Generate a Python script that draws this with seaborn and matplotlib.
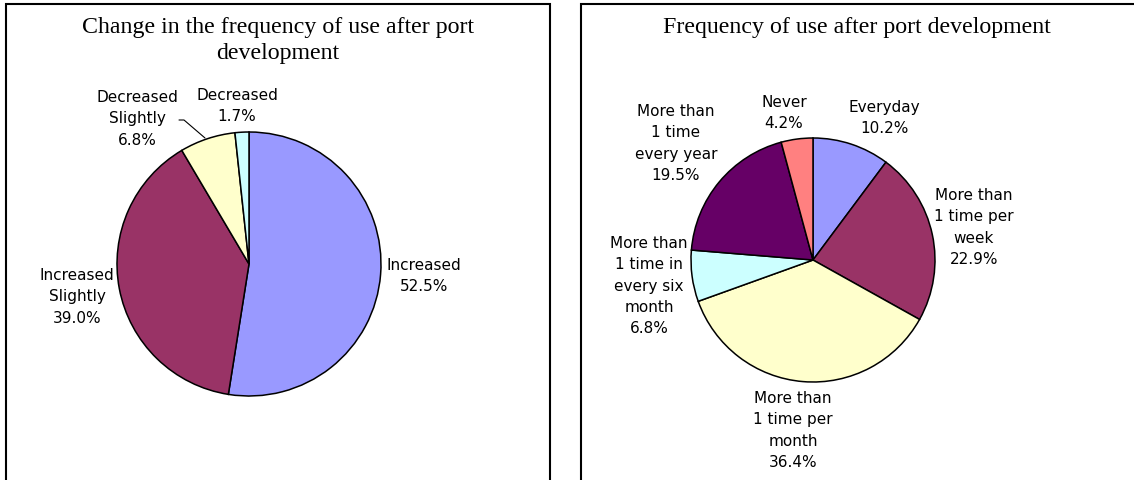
import matplotlib
matplotlib.use("Agg")
import matplotlib.pyplot as plt
from matplotlib.patches import Rectangle
import seaborn as sns

# Survey results: change in frequency of use after port development
change_labels = ["Increased", "Increased\nSlightly", "Decreased\nSlightly", "Decreased"]
change_values = [52.5, 39.0, 6.8, 1.7]

# Survey results: frequency of use after port development
freq_labels = [
    "Everyday",
    "More than\n1 time per\nweek",
    "More than\n1 time per\nmonth",
    "More than\n1 time in\nevery six\nmonth",
    "More than\n1 time\nevery year",
    "Never",
]
freq_values = [10.2, 22.9, 36.4, 6.8, 19.5, 4.2]

change_colors = ["#9999FF", "#993366", "#FFFFCC", "#CCFFFF"]
freq_colors = ["#9999FF", "#993366", "#FFFFCC", "#CCFFFF", "#660066", "#FF8080"]

sns.set_theme(style="white")
plt.rcParams["font.family"] = ["DejaVu Sans"]

W, H = 1134, 481
fig = plt.figure(figsize=(W / 100, H / 100), dpi=100)
ax = fig.add_axes([0, 0, 1, 1])


def Y(y):
    # convert top-down pixel row to axis coordinate
    return H - y


wedge_style = dict(edgecolor="black", linewidth=1.1)

ax.pie(change_values, colors=change_colors, startangle=90, counterclock=False,
       center=(249, Y(265)), radius=132, wedgeprops=wedge_style, frame=True)
ax.pie(freq_values, colors=freq_colors, startangle=90, counterclock=False,
       center=(813, Y(261)), radius=122, wedgeprops=wedge_style, frame=True)
ax.set_xlim(0, W)
ax.set_ylim(0, H)
ax.set_aspect("equal")
ax.axis("off")

# panel frames
ax.add_patch(Rectangle((6, Y(600)), 544, 595, fill=False, lw=1.5, ec="black"))
ax.add_patch(Rectangle((581, Y(600)), 700, 595, fill=False, lw=1.5, ec="black"))

title_font = dict(family="Liberation Serif", fontsize=17.2, color="black",
                  ha="center", va="center")
ax.text(278, Y(28), "Change in the frequency of use after port", **title_font)
ax.text(278, Y(54), "development", **title_font)
ax.text(857, Y(27), "Frequency of use after port development", **title_font)

label_font = dict(family="DejaVu Sans", fontsize=11, color="black",
                  ha="center", va="top", linespacing=1.53)

change_pos = [(424, 258), (77, 268), (137, 90), (237, 88)]
for lab, val, (x, y) in zip(change_labels, change_values, change_pos):
    ax.text(x, Y(y), f"{lab}\n{val:.1f}%", **label_font)

freq_pos = [(884, 100), (974, 188), (793, 391), (649, 236), (676, 104), (784, 95)]
for lab, val, (x, y) in zip(freq_labels, freq_values, freq_pos):
    ax.text(x, Y(y), f"{lab}\n{val:.1f}%", **label_font)

# leader line for the small "Decreased Slightly" slice
ax.plot([179, 184, 205], [Y(121), Y(121), Y(139)], color="black", lw=0.8)

fig.savefig("out.png", dpi=100, facecolor="white")
